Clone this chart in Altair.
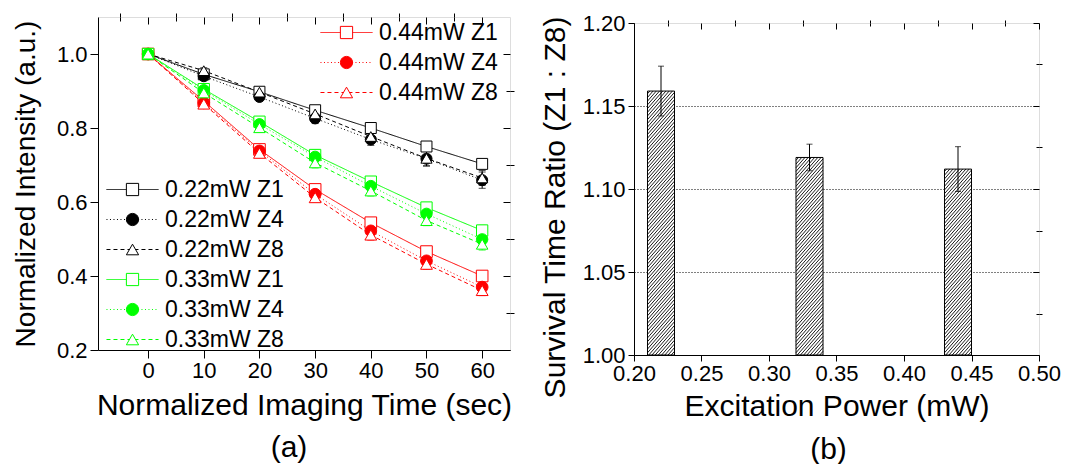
import altair as alt
import pandas as pd

FONT = "Liberation Sans"

# ---------------- Panel (a) data ----------------
time_s = [0, 10, 20, 30, 40, 50, 60]
series_names = ["0.22mW Z1", "0.22mW Z4", "0.22mW Z8",
                "0.33mW Z1", "0.33mW Z4", "0.33mW Z8",
                "0.44mW Z1", "0.44mW Z4", "0.44mW Z8"]

int_022_z1 = [1.0, 0.945, 0.898, 0.848, 0.800, 0.750, 0.703]
int_022_z4 = [1.0, 0.940, 0.884, 0.826, 0.769, 0.717, 0.659]
int_022_z8 = [1.0, 0.955, 0.897, 0.838, 0.777, 0.718, 0.665]
int_033_z1 = [1.0, 0.905, 0.817, 0.727, 0.655, 0.585, 0.523]
int_033_z4 = [1.0, 0.902, 0.810, 0.722, 0.643, 0.568, 0.499]
int_033_z8 = [1.0, 0.895, 0.801, 0.706, 0.630, 0.550, 0.486]
int_044_z1 = [1.0, 0.873, 0.742, 0.634, 0.544, 0.466, 0.400]
int_044_z4 = [1.0, 0.868, 0.738, 0.621, 0.522, 0.441, 0.370]
int_044_z8 = [1.0, 0.865, 0.732, 0.612, 0.511, 0.432, 0.361]

err_022_z1 = [0, 0.006, 0.008, 0.010, 0.010, 0.010, 0.010]
err_022_z4 = [0, 0.008, 0.010, 0.014, 0.016, 0.020, 0.022]
err_022_z8 = [0, 0.008, 0.010, 0.012, 0.016, 0.020, 0.020]
err_033_z1 = [0, 0.008, 0.010, 0.014, 0.012, 0.014, 0.014]
err_033_z4 = [0, 0.008, 0.010, 0.014, 0.014, 0.014, 0.016]
err_033_z8 = [0, 0.008, 0.012, 0.014, 0.014, 0.014, 0.016]
err_044_z1 = [0, 0.006, 0.008, 0.010, 0.012, 0.012, 0.012]
err_044_z4 = [0, 0.006, 0.008, 0.010, 0.012, 0.012, 0.012]
err_044_z8 = [0, 0.006, 0.010, 0.012, 0.014, 0.014, 0.014]

intensities = [int_022_z1, int_022_z4, int_022_z8, int_033_z1, int_033_z4, int_033_z8,
               int_044_z1, int_044_z4, int_044_z8]
errors = [err_022_z1, err_022_z4, err_022_z8, err_033_z1, err_033_z4, err_033_z8,
          err_044_z1, err_044_z4, err_044_z8]

x_ticks_a = [0, 10, 20, 30, 40, 50, 60]
x_minor_a = [-5, 5, 15, 25, 35, 45, 55]
y_ticks_a = [0.2, 0.4, 0.6, 0.8, 1.0]
y_minor_a = [0.3, 0.5, 0.7, 0.9]

# ---------------- Panel (b) data ----------------
power_mw = [0.22, 0.33, 0.44]
ratio = [1.159, 1.119, 1.112]
ratio_err = [0.015, 0.008, 0.0135]

x_ticks_b = [0.20, 0.25, 0.30, 0.35, 0.40, 0.45, 0.50]
x_minor_b = [0.225, 0.275, 0.325, 0.375, 0.425, 0.475]
y_ticks_b = [1.00, 1.05, 1.10, 1.15, 1.20]
y_minor_b = [1.025, 1.075, 1.125, 1.175]
y_grid_b = [1.05, 1.10, 1.15]

# ---------------- styles ----------------
power_color = {"0.22": "#000000", "0.33": "#00ff00", "0.44": "#ff0000"}
z_shape = {"Z1": "square", "Z4": "circle", "Z8": "triangle-up"}
z_size = {"Z1": 120, "Z4": 140, "Z8": 190}
z_dash = {"Z1": [1, 0], "Z4": [1, 2.5], "Z8": [4, 3]}

def s_color(s): return power_color[s[:4]]
def s_shape(s): return z_shape[s[-2:]]
def s_size(s): return z_size[s[-2:]]
def s_dash(s): return z_dash[s[-2:]]
def s_fill(s): return s_color(s) if s.endswith("Z4") else "#ffffff"

W1, H1 = 412, 333
W2, H2 = 405, 332
XD_A = [-9, 65]
YD_A = [0.2, 1.1]
XD_B = [0.2, 0.5]
YD_B = [1.0, 1.2]

draw_order = [0, 1, 2, 6, 7, 8, 3, 4, 5]
rows = []
for i in draw_order:
    for t, v, e in zip(time_s, intensities[i], errors[i]):
        rows.append({"t": t, "v": v, "lo": v - e, "hi": v + e, "e": e, "series": series_names[i]})
df_a = pd.DataFrame(rows)

df_b = pd.DataFrame({"power": power_mw, "ratio": ratio, "err": ratio_err})
df_b["lo"] = df_b["ratio"] - df_b["err"]
df_b["hi"] = df_b["ratio"] + df_b["err"]

BASE = dict(domainColor="black", tickColor="black", labelColor="black", titleColor="black",
            labelFont=FONT, titleFont=FONT, grid=False, tickWidth=1, domainWidth=1)


def ax_main(values, fmt, tick, title, tfs, tpad, lpad, **kw):
    return alt.Axis(values=values, format=fmt, tickSize=tick, title=title, titleFontSize=tfs,
                    titleFontWeight="normal", titlePadding=tpad, labelFontSize=22,
                    labelPadding=lpad, labelOverlap=False, labelFlush=False, **BASE, **kw)


def ax_ticks(values, tick, inward=False, orient=None):
    kw = dict(values=values, tickSize=tick, labels=False, domain=False, title=None, **BASE)
    if inward:
        kw["orient"] = orient
        kw["offset"] = -tick
        kw["minExtent"] = 0
        kw["maxExtent"] = 0
    return alt.Axis(**kw)


def axis_layer(df, xf, yf, xs, ys, xaxis, yaxis):
    return alt.Chart(df).mark_point(opacity=0).encode(
        x=alt.X(xf, type="quantitative", scale=xs, axis=xaxis),
        y=alt.Y(yf, type="quantitative", scale=ys, axis=yaxis),
    )


# ================= Panel (a) =================
xs_a = alt.Scale(domain=XD_A, nice=False, zero=False)
ys_a = alt.Scale(domain=YD_A, nice=False, zero=False)

a_axes = [
    axis_layer(df_a, "t", "v", xs_a, ys_a,
               ax_main(x_ticks_a, "d", 8, "Normalized Imaging Time (sec)", 30, 9, 2),
               ax_main(y_ticks_a, ".1f", 8, "Normalized Intensity (a.u.)", 28, 16, 3)),
    axis_layer(df_a, "t", "v", xs_a, ys_a, ax_ticks(x_minor_a, 4), ax_ticks(y_minor_a, 4)),
    axis_layer(df_a, "t", "v", xs_a, ys_a, ax_ticks(x_ticks_a, 7, True, "top"),
               ax_ticks(y_ticks_a, 7, True, "right")),
    axis_layer(df_a, "t", "v", xs_a, ys_a, ax_ticks(x_minor_a, 4, True, "top"),
               ax_ticks(y_minor_a, 4, True, "right")),
]

all_colors = [s_color(s) for s in series_names]
all_shapes = [s_shape(s) for s in series_names]
all_sizes = [s_size(s) for s in series_names]
all_dashes = [s_dash(s) for s in series_names]
all_fills = [s_fill(s) for s in series_names]

X_A = alt.X("t:Q", scale=xs_a, axis=None)
Y_A = alt.Y("v:Q", scale=ys_a, axis=None)

lines_a = alt.Chart(df_a).mark_line(strokeWidth=1).encode(
    x=X_A, y=Y_A,
    stroke=alt.Stroke("series:N", scale=alt.Scale(domain=series_names, range=all_colors), legend=None),
    strokeDash=alt.StrokeDash("series:N", scale=alt.Scale(domain=series_names, range=all_dashes), legend=None),
)

err_src = alt.Chart(df_a).transform_filter("datum.e > 0")
err_rule_a = err_src.mark_rule(strokeWidth=1).encode(
    x=X_A, y=alt.Y("lo:Q", scale=ys_a, axis=None), y2="hi:Q",
    stroke=alt.Stroke("series:N", scale=alt.Scale(domain=series_names, range=all_colors), legend=None),
)
cap_lo_a = err_src.mark_tick(orient="horizontal", size=7, thickness=1).encode(
    x=X_A, y=alt.Y("lo:Q", scale=ys_a, axis=None),
    color=alt.Color("series:N", scale=alt.Scale(domain=series_names, range=all_colors), legend=None),
)
cap_hi_a = err_src.mark_tick(orient="horizontal", size=7, thickness=1).encode(
    x=X_A, y=alt.Y("hi:Q", scale=ys_a, axis=None),
    color=alt.Color("series:N", scale=alt.Scale(domain=series_names, range=all_colors), legend=None),
)

points_a = alt.Chart(df_a).mark_point(strokeWidth=1, opacity=1, fillOpacity=1).encode(
    x=X_A, y=Y_A,
    shape=alt.Shape("series:N", scale=alt.Scale(domain=series_names, range=all_shapes), legend=None),
    size=alt.Size("series:N", scale=alt.Scale(domain=series_names, range=all_sizes), legend=None),
    stroke=alt.Stroke("series:N", scale=alt.Scale(domain=series_names, range=all_colors), legend=None),
    fill=alt.Fill("series:N", scale=alt.Scale(domain=series_names, range=all_fills), legend=None),
)

LEG_SYM = 150
LINE_PATH = "M-4.25,0H4.25"
empty = pd.DataFrame({"series": pd.Series([], dtype="str")})


def leg(x, y, symbol_type=None, hide_labels=False):
    kw = dict(orient="none", legendX=x, legendY=y, title=None, padding=0, symbolSize=LEG_SYM,
              symbolStrokeWidth=1, symbolOffset=0, labelFont=FONT, labelFontSize=23,
              labelColor="black", labelOffset=21, rowPadding=6, labelLimit=400)
    if symbol_type:
        kw["symbolType"] = symbol_type
    if hide_labels:
        kw["labelOpacity"] = 0
    return alt.Legend(**kw)


def legend_layers(names, x, y):
    line_dom = [n + " " for n in names]
    lg_line = leg(x, y, LINE_PATH, True)
    lg_mark = leg(x, y)
    line_layer = alt.Chart(empty).mark_line(strokeWidth=1).encode(
        stroke=alt.Stroke("series:N", scale=alt.Scale(domain=line_dom, range=[s_color(n) for n in names]), legend=lg_line),
        strokeDash=alt.StrokeDash("series:N", scale=alt.Scale(domain=line_dom, range=[s_dash(n) for n in names]), legend=lg_line),
    )
    mark_layer = alt.Chart(empty).mark_point(strokeWidth=1, opacity=1, fillOpacity=1).encode(
        shape=alt.Shape("series:N", scale=alt.Scale(domain=names, range=[s_shape(n) for n in names]), legend=lg_mark),
        stroke=alt.Stroke("series:N", scale=alt.Scale(domain=names, range=[s_color(n) for n in names]), legend=lg_mark),
        fill=alt.Fill("series:N", scale=alt.Scale(domain=names, range=[s_fill(n) for n in names]), legend=lg_mark),
    )
    return [line_layer, mark_layer]


leg_low = legend_layers(series_names[:6], 23, 161)
leg_up = legend_layers(series_names[6:], 237, 4)

panel_a = alt.layer(
    *a_axes, lines_a, err_rule_a, cap_lo_a, cap_hi_a, points_a, *leg_low, *leg_up
).resolve_scale(
    stroke="independent", strokeDash="independent", shape="independent", fill="independent",
    color="independent", size="independent"
).resolve_axis(x="independent", y="independent").properties(
    width=W1, height=H1,
    title=alt.TitleParams("(a)", orient="bottom", fontSize=30, font=FONT, fontWeight="normal",
                          color="black", frame="group", dx=-15, offset=13),
)

# ================= Panel (b) =================
xs_b = alt.Scale(domain=XD_B, nice=False, zero=False)
ys_b = alt.Scale(domain=YD_B, nice=False, zero=False)

b_axes = [
    axis_layer(df_b, "power", "ratio", xs_b, ys_b,
               ax_main(x_ticks_b, ".2f", 6, "Excitation Power (mW)", 30, 7, 2),
               ax_main(y_ticks_b, ".2f", 6, "Survival Time Ratio (Z1 : Z8)", 30, 12, 3, titleY=184)),
    axis_layer(df_b, "power", "ratio", xs_b, ys_b, ax_ticks(x_minor_b, 3), ax_ticks(y_minor_b, 3)),
    axis_layer(df_b, "power", "ratio", xs_b, ys_b, ax_ticks(x_ticks_b, 6, True, "top"),
               ax_ticks(y_ticks_b, 6, True, "right")),
    axis_layer(df_b, "power", "ratio", xs_b, ys_b, ax_ticks(x_minor_b, 3, True, "top"),
               ax_ticks(y_minor_b, 3, True, "right")),
    alt.Chart(df_b).mark_point(opacity=0).encode(
        x=alt.X("power:Q", scale=xs_b, axis=None),
        y=alt.Y("ratio:Q", scale=ys_b, axis=alt.Axis(values=y_grid_b, grid=True, gridDash=[1, 2],
                                                     gridColor="black", gridWidth=1, gridOpacity=1,
                                                     ticks=False, labels=False, domain=False, title=None)),
    ),
]

BAR_HALF = 0.01
base_b = alt.Chart(df_b).transform_calculate(
    x0=f"datum.power - {BAR_HALF}", x1=f"datum.power + {BAR_HALF}", base=f"{YD_B[0]}"
)
bars_b = base_b.mark_rect(fill="white", stroke="black", strokeWidth=1).encode(
    x=alt.X("x0:Q", scale=xs_b, axis=None), x2="x1:Q",
    y=alt.Y("base:Q", scale=ys_b, axis=None), y2="ratio:Q",
)

# diagonal hatch inside the bars
px_x = W2 / (XD_B[1] - XD_B[0])
px_y = H2 / (YD_B[1] - YD_B[0])
BW = 2 * BAR_HALF
WY = 1.15 * BW * px_x / px_y   # rise over one bar width in data units
SP = 3.7 / px_y                # vertical spacing of hatch lines
hatch_b = base_b.transform_calculate(k="sequence(0, 100)").transform_flatten(["k"]).transform_calculate(
    ya=f"datum.base + datum.k * {SP} - {WY}",
).transform_calculate(
    yr=f"datum.ya + {WY}"
).transform_filter("datum.ya < datum.ratio").transform_calculate(
    yb="min(datum.yr, datum.ratio)",
    xb=f"datum.x0 + (min(datum.yr, datum.ratio) - datum.ya) / {WY} * {BW}",
).mark_rule(strokeWidth=0.9, color="black", clip=True).encode(
    x=alt.X("x0:Q", scale=xs_b, axis=None), y=alt.Y("ya:Q", scale=ys_b, axis=None),
    x2="xb:Q", y2="yb:Q",
)

err_b = alt.Chart(df_b).mark_rule(strokeWidth=1, color="black").encode(
    x=alt.X("power:Q", scale=xs_b, axis=None), y=alt.Y("lo:Q", scale=ys_b, axis=None), y2="hi:Q")
cap_lo_b = alt.Chart(df_b).mark_tick(orient="horizontal", size=6, thickness=1, color="black").encode(
    x=alt.X("power:Q", scale=xs_b, axis=None), y=alt.Y("lo:Q", scale=ys_b, axis=None))
cap_hi_b = alt.Chart(df_b).mark_tick(orient="horizontal", size=6, thickness=1, color="black").encode(
    x=alt.X("power:Q", scale=xs_b, axis=None), y=alt.Y("hi:Q", scale=ys_b, axis=None))

panel_b = alt.layer(*b_axes, bars_b, hatch_b, err_b, cap_lo_b, cap_hi_b).resolve_axis(
    x="independent", y="independent"
).properties(
    width=W2, height=H2,
    title=alt.TitleParams("(b)", orient="bottom", fontSize=30, font=FONT, fontWeight="normal",
                          color="black", frame="group", dx=-8, offset=14),
)

# thin invisible spacer so panel (b) sits slightly lower than panel (a), as in the figure
spacer = alt.Chart(empty).mark_point(opacity=0).properties(
    width=W2, height=1, view=alt.ViewBackground(stroke="transparent")
)
col_b = alt.vconcat(spacer, panel_b, spacing=-8)

chart = alt.hconcat(panel_a, col_b, spacing=24).resolve_scale(
    stroke="independent", strokeDash="independent", shape="independent", fill="independent",
    color="independent", size="independent"
).properties(
    padding={"left": 3, "top": 3, "right": 0, "bottom": 0}
).configure_view(stroke="black", strokeWidth=1).configure(background="white")

chart.save("out.html", embed_options={"renderer": "svg", "actions": False})
